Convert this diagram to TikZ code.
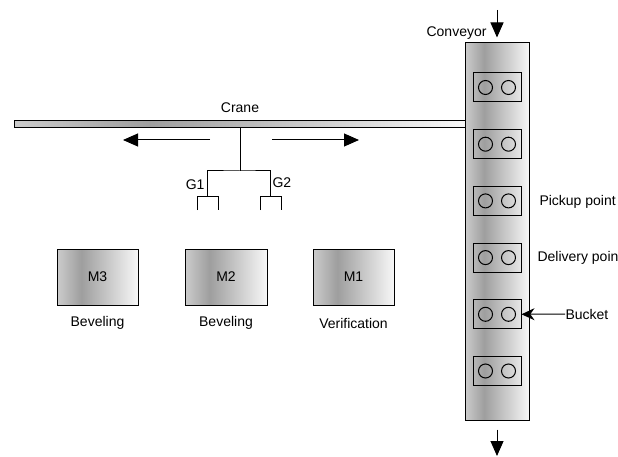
\documentclass[tikz,border=0pt]{standalone}
\usepackage{fontspec}
\setmainfont{Liberation Sans}
\usetikzlibrary{arrows.meta}

\definecolor{mleft}{gray}{0.80}
\definecolor{mdark}{gray}{0.62}
\definecolor{mright}{gray}{0.97}
\pgfdeclarehorizontalshading{metal}{100bp}{color(0bp)=(mleft); color(25bp)=(mleft);
  color(40bp)=(mdark); color(75bp)=(mright); color(100bp)=(mright)}

\begin{document}
\begin{tikzpicture}[x=1pt,y=-1pt,
  every node/.style={font=\fontsize{14}{16}\selectfont},
  box/.style={draw, line width=1pt, shading=metal, inner sep=0pt},
  bucket/.style={draw, line width=1pt, inner sep=0pt, minimum width=48pt, minimum height=29pt},
  move/.style={-{Triangle[length=15pt,width=13pt]}, line width=1pt},
  line width=1pt]
\useasboundingbox (0,0) rectangle (618,457);

% conveyor
\node[box, minimum width=64pt, minimum height=377pt] (conv) at (497,231.5) {};
\node[anchor=east, inner sep=0pt] (convlbl) at (487,33) {Conveyor};
\coordinate (inflow) at (497,10);
\coordinate (outflow) at (497,456);
\draw[move, shorten >=5pt] (inflow) -- (conv.north);
\draw[move, shorten <=9pt] (conv.south) -- (outflow);

% buckets
\foreach \i in {1,...,6} {
  \node[bucket] (b\i) at (497,{87.5+56.7*(\i-1)}) {};
  \draw ([xshift=-11.5pt]b\i.center) circle (7pt);
  \draw ([xshift=11.5pt]b\i.center) circle (7pt);
}
\node[anchor=west, inner sep=0pt] (pickup) at (539,202) {Pickup point};
\node[anchor=west, inner sep=0pt] (deliv) at (537,258) {Delivery poin};
\node[anchor=west, inner sep=0pt] (bucketlbl) at (565,314) {Bucket};
\draw[-{Stealth[length=13pt,width=12pt]}] (bucketlbl.west) -- (b5.east);

% crane
\node[box, minimum width=451pt, minimum height=7pt] (crane) at (239.5,124.5) {};
\node[inner sep=0pt] (cranelbl) at (240,108) {Crane};
\coordinate (ml1) at (210,140);
\coordinate (ml2) at (123,140);
\coordinate (mr1) at (272,140);
\coordinate (mr2) at (359,140);
\draw[move] (ml1) -- (ml2);
\draw[move] (mr1) -- (mr2);

% grippers
\coordinate (hub) at (240,171);
\coordinate (g1) at (207.5,197);
\coordinate (g2) at (270.5,197);
\draw (crane.south -| hub) -- (hub);
\draw (g1) |- (hub) -| (g2);
\foreach \g in {g1,g2}
  \draw (\g) ++(-10.5,13) |- ++(21,-13) -- ++(0,13);
\node[anchor=east, inner sep=0pt] (g1lbl) at (205,185) {G1};
\node[anchor=west, inner sep=0pt] (g2lbl) at (272,183) {G2};

% machines
\node[box, minimum width=81pt, minimum height=56pt] (m3) at (97.5,277) {M3};
\node[box, minimum width=82pt, minimum height=56pt] (m2) at (226,277) {M2};
\node[box, minimum width=81pt, minimum height=56pt] (m1) at (353.5,277) {M1};
\node (m3lbl) at (97.5,323) {Beveling};
\node (m2lbl) at (226,323) {Beveling};
\node (m1lbl) at (353.5,323) {Verification};

\end{tikzpicture}
\end{document}
